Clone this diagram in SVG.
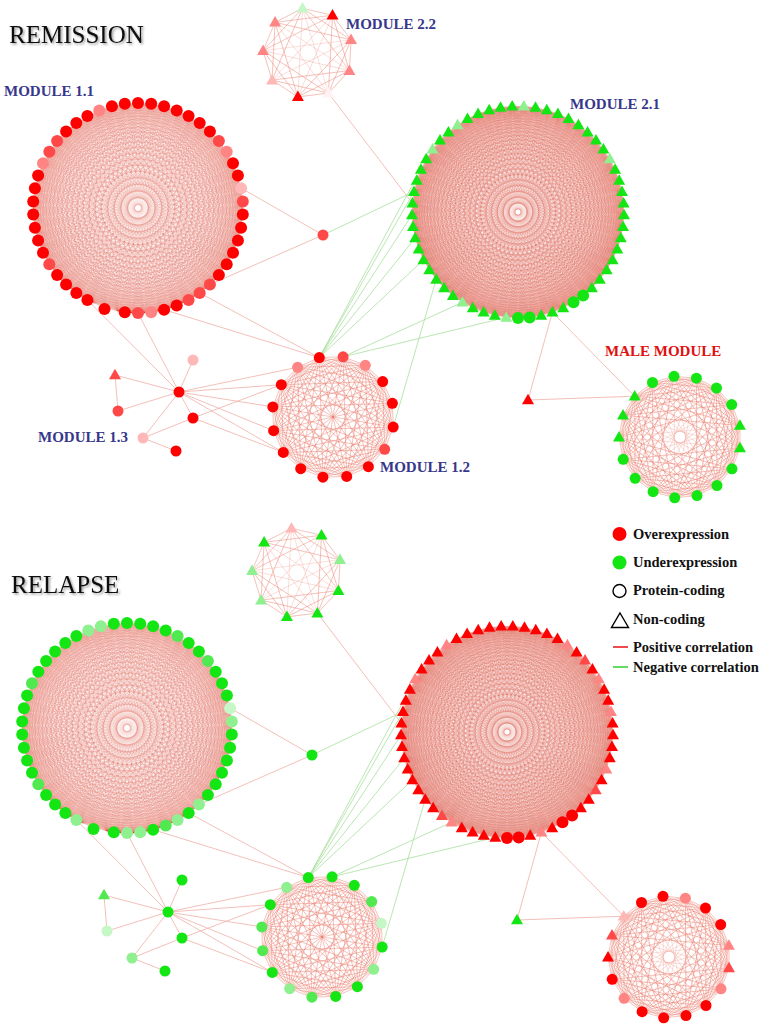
<svg xmlns="http://www.w3.org/2000/svg" width="762" height="1027" viewBox="0 0 762 1027">
<style>
.R{fill:#f00}.R2{fill:#ff4848}.R3{fill:#ff8585}.R4{fill:#ffb8b8}.W{fill:#fff2f2}
.G{fill:#14e614}.G2{fill:#50ea50}.G3{fill:#8ef08e}.G4{fill:#c6f7c6}
.p{fill:none;stroke:#efb0a8;stroke-width:.8}
.n{fill:none;stroke:#a8e09e;stroke-width:.8}
.tt{font:25px "Liberation Serif",serif;fill:#111;filter:url(#sh)}
.ml{font:bold 15px "Liberation Serif",serif;fill:#37378b}
.lg{font:bold 14.5px "Liberation Serif",serif;fill:#111}
</style>
<defs>
<filter id="sh" x="-5%" y="-30%" width="115%" height="170%"><feDropShadow dx="1.5" dy="1.5" stdDeviation="1.2" flood-color="#000" flood-opacity=".4"/></filter>
<circle id="c" r="6"/>
<circle id="d" r="5.5"/>
<path id="t" d="M0-6.2 6 4.3H-6Z"/>
<path id="f49" fill="none" stroke="#e0503c" stroke-opacity=".115" stroke-width=".5" d="M0-105L13.4-104.1 0-105 26.6-101.6 0-105 39.4-97.3 0-105 51.5-91.5 0-105 62.8-84.1 0-105 73-75.4 0-105 82.1-65.5 0-105 89.8-54.4 0-105 96-42.5 0-105 100.7-29.9 0-105 103.7-16.8 0-105 105-3.4 0-105 104.5 10.1 0-105 102.4 23.4 0-105 98.5 36.3 0-105 93.1 48.6 0-105 86.1 60.1 0-105 77.7 70.6 0-105 68.1 80 0-105 57.3 88 0-105 45.6 94.6 0-105 33.1 99.7 0-105 20.1 103.1 0-105 6.7 104.8"/>
<g id="a1"><use href="#f49"/><use href="#f49" transform="rotate(7.3469)"/></g>
<g id="a2"><use href="#a1"/><use href="#a1" transform="rotate(14.6939)"/></g>
<g id="a3"><use href="#a2"/><use href="#a2" transform="rotate(29.3878)"/></g>
<g id="a4"><use href="#a3"/><use href="#a3" transform="rotate(58.7755)"/></g>
<g id="a5"><use href="#a4"/><use href="#a4" transform="rotate(117.551)"/></g>
<g id="K49"><use href="#a5"/><use href="#a4" transform="rotate(235.102)"/><use href="#f49" transform="rotate(352.653)"/></g>
<path id="f57" fill="none" stroke="#e0503c" stroke-opacity=".115" stroke-width=".5" d="M0-106L11.7-105.4 0-106 23.2-103.4 0-106 34.4-100.3 0-106 45.2-95.9 0-106 55.5-90.3 0-106 65.1-83.7 0-106 73.9-76 0-106 81.8-67.4 0-106 88.7-58 0-106 94.6-47.9 0-106 99.3-37.2 0-106 102.8-26 0-106 105-14.6 0-106 106-2.9 0-106 105.6 8.8 0-106 104 20.3 0-106 101.2 31.6 0-106 97.1 42.6 0-106 91.8 53 0-106 85.4 62.8 0-106 78 71.8 0-106 69.6 79.9 0-106 60.4 87.1 0-106 50.5 93.2 0-106 39.9 98.2 0-106 28.8 102 0-106 17.5 104.6 0-106 5.8 105.8"/>
<g id="b1"><use href="#f57"/><use href="#f57" transform="rotate(6.31579)"/></g>
<g id="b2"><use href="#b1"/><use href="#b1" transform="rotate(12.63158)"/></g>
<g id="b3"><use href="#b2"/><use href="#b2" transform="rotate(25.26316)"/></g>
<g id="b4"><use href="#b3"/><use href="#b3" transform="rotate(50.52632)"/></g>
<g id="b5"><use href="#b4"/><use href="#b4" transform="rotate(101.05263)"/></g>
<g id="K57"><use href="#b5"/><use href="#b4" transform="rotate(202.10526)"/><use href="#b3" transform="rotate(303.15789)"/><use href="#f57" transform="rotate(353.68421)"/></g>
<path id="f16" fill="none" stroke="#e8705f" stroke-opacity=".36" stroke-width=".6" d="M0-61L23.3-56.4 0-61 43.1-43.1 0-61 56.4-23.3 0-61 61 0 0-61 56.4 23.3 0-61 43.1 43.1 0-61 23.3 56.4 0-61 0 61"/>
<g id="c1"><use href="#f16"/><use href="#f16" transform="rotate(22.5)"/></g>
<g id="c2"><use href="#c1"/><use href="#c1" transform="rotate(45)"/></g>
<g id="c3"><use href="#c2"/><use href="#c2" transform="rotate(90)"/></g>
<g id="K16"><use href="#c3"/><use href="#c3" transform="rotate(180)"/></g>
<path id="f17" fill="none" stroke="#e8705f" stroke-opacity=".36" stroke-width=".6" d="M0-61L22-56.9 0-61 41.1-45.1 0-61 54.6-27.2 0-61 60.7-5.6 0-61 58.7 16.7 0-61 48.7 36.8 0-61 32.1 51.9 0-61 11.2 60"/>
<g id="d1"><use href="#f17"/><use href="#f17" transform="rotate(21.17647)"/></g>
<g id="d2"><use href="#d1"/><use href="#d1" transform="rotate(42.35294)"/></g>
<g id="d3"><use href="#d2"/><use href="#d2" transform="rotate(84.70588)"/></g>
<g id="d4"><use href="#d3"/><use href="#d3" transform="rotate(169.41176)"/></g>
<g id="K17"><use href="#d4"/><use href="#f17" transform="rotate(338.82353)"/></g>
<path id="f9" fill="none" stroke="#e8705f" stroke-opacity=".36" stroke-width=".6" d="M0-45L28.9-34.5 0-45 44.3-7.8 0-45 39 22.5 0-45 15.4 42.3"/>
<g id="e1"><use href="#f9"/><use href="#f9" transform="rotate(40)"/></g>
<g id="e2"><use href="#e1"/><use href="#e1" transform="rotate(80)"/></g>
<g id="e3"><use href="#e2"/><use href="#e2" transform="rotate(160)"/></g>
<g id="K9"><use href="#e3"/><use href="#f9" transform="rotate(320)"/></g>
</defs>
<rect width="762" height="1027" fill="#fff"/>

<g id="connectors">
<g id="E">
<use href="#K49" transform="translate(138 208)"/>
<use href="#K57" transform="translate(518 212) rotate(180)"/>
<use href="#K16" transform="translate(333 417) rotate(-13)"/>
<use href="#K17" transform="translate(680 437) rotate(-5.6)"/>
<use href="#K9" transform="translate(308 53) rotate(-7)"/>
<path class="p" d="M241 188L323 235M210 284.5L323 235M199.7 293L319.3 357.6M164 309.7L319.3 357.6M138 313L179 392M87.4 300L179 392M115 375L118 411M115 375L179 392M118 411L179 392M143 438L179 392M143 438L176 451M143 438L193 418M179 392L193 360M179 392L193 418M179 392L297.6 367.3M179 392L281.3 384.7M179 392L272.8 406.9M179 392L273.6 430.7M179 392L283.3 452.4M193 418L281.3 384.7M193 418L283.3 452.4M328.4 93.1L412.4 203.2M552.4 312.3L528 400M552.4 312.3L634.7 396.2M528 400L634.7 396.2"/>
<path class="n" d="M319.3 357.6L420.9 169.4M319.3 357.6L414 191.7M319.3 357.6L412 214.9M319.3 357.6L415.2 238M319.3 357.6L423.4 259.9M343.1 356.8L462.5 302.3M343.1 356.8L506.3 317.4M393.2 427.1L436.2 279.4M323 235L414 191.7"/>
</g>
<use href="#E" transform="translate(-11 520)"/>
</g>

<g id="rem-m11" class="R">
<use href="#c" x="138" y="103"/><use href="#c" x="151.2" y="103.8"/><use href="#c" x="164.1" y="106.3"/><use href="#c" x="176.7" y="110.4"/><use href="#c" x="188.6" y="116"/><use href="#c" x="199.7" y="123.1"/><use href="#c" x="209.9" y="131.5"/><use href="#c" x="218.9" y="141.1" class="R2"/><use href="#c" x="226.7" y="151.7" class="R3"/><use href="#c" x="233" y="163.3"/><use href="#c" x="237.9" y="175.6"/><use href="#c" x="241.1" y="188.3" class="R4"/><use href="#c" x="242.8" y="201.4" class="R2"/><use href="#c" x="242.8" y="214.6"/><use href="#c" x="241.1" y="227.7"/><use href="#c" x="237.9" y="240.4"/><use href="#c" x="233" y="252.7"/><use href="#c" x="226.7" y="264.3"/><use href="#c" x="218.9" y="274.9"/><use href="#c" x="209.9" y="284.5" class="R2"/><use href="#c" x="199.7" y="292.9" class="R2"/><use href="#c" x="188.6" y="300" class="R2"/><use href="#c" x="176.7" y="305.6"/><use href="#c" x="164.1" y="309.7"/><use href="#c" x="151.2" y="312.2" class="R3"/><use href="#c" x="138" y="313" class="R2"/><use href="#c" x="124.8" y="312.2"/><use href="#c" x="104.5" y="309"/><use href="#c" x="87.4" y="300"/><use href="#c" x="76.3" y="292.9"/><use href="#c" x="66.1" y="284.5"/><use href="#c" x="57.1" y="274.9"/><use href="#c" x="49.3" y="264.3" class="R2"/><use href="#c" x="43" y="252.7"/><use href="#c" x="38.1" y="240.4"/><use href="#c" x="34.9" y="227.7"/><use href="#c" x="33.2" y="214.6"/><use href="#c" x="33.2" y="201.4"/><use href="#c" x="34.9" y="188.3"/><use href="#c" x="38.1" y="175.6"/><use href="#c" x="43" y="163.3" class="R3"/><use href="#c" x="49.3" y="151.7" class="R2"/><use href="#c" x="57.1" y="141.1" class="R2"/><use href="#c" x="66.1" y="131.5"/><use href="#c" x="76.3" y="123.1"/><use href="#c" x="87.4" y="116"/><use href="#c" x="99.3" y="110.4" class="R3"/><use href="#c" x="111.9" y="106.3"/><use href="#c" x="124.8" y="103.8"/>
</g>

<g id="rem-m21" class="G">
<use href="#c" x="518" y="318"/><use href="#c" x="529.7" y="317.4"/><use href="#t" x="541.2" y="315.4"/><use href="#t" x="552.4" y="312.3"/><use href="#t" x="563.2" y="307.9"/><use href="#c" x="573.5" y="302.3"/><use href="#c" x="583.1" y="295.6"/><use href="#t" x="591.9" y="288"/><use href="#t" x="599.8" y="279.4"/><use href="#t" x="606.7" y="270"/><use href="#t" x="612.6" y="259.9"/><use href="#t" x="617.3" y="249.2"/><use href="#t" x="620.8" y="238"/><use href="#t" x="623" y="226.6"/><use href="#t" x="624" y="214.9"/><use href="#t" x="623.6" y="203.2"/><use href="#t" x="622" y="191.7"/><use href="#t" x="619.2" y="180.4"/><use href="#t" x="615.1" y="169.4"/><use href="#t" x="609.8" y="159" class="G3"/><use href="#t" x="603.4" y="149.2"/><use href="#t" x="596" y="140.2"/><use href="#t" x="587.6" y="132.1"/><use href="#t" x="578.4" y="124.9"/><use href="#t" x="568.5" y="118.8"/><use href="#t" x="557.9" y="113.8"/><use href="#t" x="546.8" y="110"/><use href="#t" x="535.5" y="107.4"/><use href="#t" x="523.8" y="106.2" class="G3"/><use href="#t" x="512.2" y="106.2"/><use href="#t" x="500.5" y="107.4"/><use href="#t" x="489.2" y="110"/><use href="#t" x="478.1" y="113.8"/><use href="#t" x="467.5" y="118.8"/><use href="#t" x="457.6" y="124.9" class="G3"/><use href="#t" x="448.4" y="132.1"/><use href="#t" x="440" y="140.2"/><use href="#t" x="432.6" y="149.2" class="G3"/><use href="#t" x="426.2" y="159"/><use href="#t" x="420.9" y="169.4"/><use href="#t" x="416.8" y="180.4"/><use href="#t" x="414" y="191.7"/><use href="#t" x="412.4" y="203.2"/><use href="#t" x="412" y="214.9"/><use href="#t" x="413" y="226.6"/><use href="#t" x="415.2" y="238"/><use href="#t" x="418.7" y="249.2"/><use href="#t" x="423.4" y="259.9"/><use href="#t" x="429.3" y="270"/><use href="#t" x="436.2" y="279.4"/><use href="#t" x="444.1" y="288"/><use href="#t" x="452.9" y="295.6"/><use href="#t" x="462.5" y="302.3" class="G3"/><use href="#t" x="472.8" y="307.9"/><use href="#t" x="483.6" y="312.3"/><use href="#t" x="494.8" y="315.4"/><use href="#t" x="506.3" y="317.4" class="G3"/>
</g>

<g id="rem-m22" class="R3">
<use href="#t" x="302.5" y="8.3" class="G4"/><use href="#t" x="332.5" y="15.3" class="R"/><use href="#t" x="351" y="39.8"/><use href="#t" x="349.4" y="70.6"/><use href="#t" x="328.4" y="93.1" class="W"/><use href="#t" x="297.9" y="96.8" class="R"/><use href="#t" x="272.1" y="80.1" class="R4"/><use href="#t" x="263.1" y="50.6"/><use href="#t" x="275.1" y="22.3"/>
</g>

<g id="rem-m12" class="R">
<use href="#d" x="319.3" y="357.6"/><use href="#d" x="343.1" y="356.8" class="R2"/><use href="#d" x="365.3" y="365.3" class="R3"/><use href="#d" x="382.7" y="381.6"/><use href="#d" x="392.4" y="403.3"/><use href="#d" x="393.2" y="427.1"/><use href="#d" x="384.7" y="449.3" class="R2"/><use href="#d" x="368.4" y="466.7"/><use href="#d" x="346.7" y="476.4"/><use href="#d" x="322.9" y="477.2"/><use href="#d" x="300.7" y="468.7"/><use href="#d" x="283.3" y="452.4"/><use href="#d" x="273.6" y="430.7"/><use href="#d" x="272.8" y="406.9"/><use href="#d" x="281.3" y="384.7"/><use href="#d" x="297.6" y="367.3" class="R3"/>
</g>

<g id="rem-m13" class="R">
<use href="#d" x="179" y="392"/><use href="#d" x="193" y="360" class="R4"/><use href="#t" x="115" y="375" class="R2"/><use href="#d" x="118" y="411" class="R2"/><use href="#d" x="143" y="438" class="R4"/><use href="#d" x="176" y="451"/><use href="#d" x="193" y="418"/>
</g>

<g id="rem-male" class="G">
<use href="#d" x="674" y="376.3"/><use href="#d" x="696.4" y="378.2"/><use href="#d" x="716.5" y="388.1"/><use href="#d" x="731.7" y="404.6"/><use href="#t" x="739.9" y="425.5"/><use href="#t" x="740" y="447.9"/><use href="#d" x="732" y="468.8"/><use href="#d" x="717" y="485.5"/><use href="#d" x="697" y="495.6"/><use href="#d" x="674.7" y="497.8"/><use href="#d" x="653.1" y="491.7"/><use href="#d" x="635.1" y="478.3"/><use href="#d" x="623.2" y="459.3"/><use href="#t" x="619" y="437.3"/><use href="#t" x="623" y="415.3"/><use href="#t" x="634.7" y="396.2"/><use href="#d" x="652.5" y="382.5"/>
</g>

<g id="rem-iso1" class="R2"><use href="#d" x="323" y="235"/></g>
<g id="rem-iso2" class="R"><use href="#t" x="528" y="400"/></g>

<g id="rel-m11" class="G" transform="translate(-11 520)">
<use href="#c" x="138" y="103"/><use href="#c" x="151.2" y="103.8"/><use href="#c" x="164.1" y="106.3"/><use href="#c" x="176.7" y="110.4"/><use href="#c" x="188.6" y="116" class="G2"/><use href="#c" x="199.7" y="123.1"/><use href="#c" x="209.9" y="131.5"/><use href="#c" x="218.9" y="141.1" class="G2"/><use href="#c" x="226.7" y="151.7"/><use href="#c" x="233" y="163.3"/><use href="#c" x="237.9" y="175.6"/><use href="#c" x="241.1" y="188.3" class="G4"/><use href="#c" x="242.8" y="201.4" class="G3"/><use href="#c" x="242.8" y="214.6"/><use href="#c" x="241.1" y="227.7"/><use href="#c" x="237.9" y="240.4"/><use href="#c" x="233" y="252.7"/><use href="#c" x="226.7" y="264.3"/><use href="#c" x="218.9" y="274.9"/><use href="#c" x="209.9" y="284.5" class="G3"/><use href="#c" x="199.7" y="292.9"/><use href="#c" x="188.6" y="300" class="G3"/><use href="#c" x="176.7" y="305.6" class="G2"/><use href="#c" x="164.1" y="309.7"/><use href="#c" x="151.2" y="312.2" class="G3"/><use href="#c" x="138" y="313" class="G3"/><use href="#c" x="124.8" y="312.2"/><use href="#c" x="104.5" y="309"/><use href="#c" x="87.4" y="300" class="G3"/><use href="#c" x="76.3" y="292.9"/><use href="#c" x="66.1" y="284.5"/><use href="#c" x="57.1" y="274.9"/><use href="#c" x="49.3" y="264.3" class="G2"/><use href="#c" x="43" y="252.7"/><use href="#c" x="38.1" y="240.4"/><use href="#c" x="34.9" y="227.7"/><use href="#c" x="33.2" y="214.6"/><use href="#c" x="33.2" y="201.4"/><use href="#c" x="34.9" y="188.3"/><use href="#c" x="38.1" y="175.6"/><use href="#c" x="43" y="163.3" class="G2"/><use href="#c" x="49.3" y="151.7"/><use href="#c" x="57.1" y="141.1"/><use href="#c" x="66.1" y="131.5"/><use href="#c" x="76.3" y="123.1"/><use href="#c" x="87.4" y="116"/><use href="#c" x="99.3" y="110.4" class="G3"/><use href="#c" x="111.9" y="106.3" class="G3"/><use href="#c" x="124.8" y="103.8"/>
</g>

<g id="rel-m21" class="R" transform="translate(-11 520)">
<use href="#c" x="518" y="318"/><use href="#c" x="529.7" y="317.4"/><use href="#t" x="541.2" y="315.4"/><use href="#t" x="552.4" y="312.3" class="R3"/><use href="#t" x="563.2" y="307.9"/><use href="#c" x="573.5" y="302.3"/><use href="#c" x="583.1" y="295.6"/><use href="#t" x="591.9" y="288"/><use href="#t" x="599.8" y="279.4"/><use href="#t" x="606.7" y="270" class="R2"/><use href="#t" x="612.6" y="259.9"/><use href="#t" x="617.3" y="249.2" class="R3"/><use href="#t" x="620.8" y="238"/><use href="#t" x="623" y="226.6"/><use href="#t" x="624" y="214.9"/><use href="#t" x="623.6" y="203.2"/><use href="#t" x="622" y="191.7" class="R3"/><use href="#t" x="619.2" y="180.4"/><use href="#t" x="615.1" y="169.4"/><use href="#t" x="609.8" y="159" class="R3"/><use href="#t" x="603.4" y="149.2"/><use href="#t" x="596" y="140.2" class="R2"/><use href="#t" x="587.6" y="132.1"/><use href="#t" x="578.4" y="124.9" class="R3"/><use href="#t" x="568.5" y="118.8"/><use href="#t" x="557.9" y="113.8"/><use href="#t" x="546.8" y="110"/><use href="#t" x="535.5" y="107.4"/><use href="#t" x="523.8" y="106.2"/><use href="#t" x="512.2" y="106.2"/><use href="#t" x="500.5" y="107.4"/><use href="#t" x="489.2" y="110"/><use href="#t" x="478.1" y="113.8"/><use href="#t" x="467.5" y="118.8"/><use href="#t" x="457.6" y="124.9" class="R3"/><use href="#t" x="448.4" y="132.1"/><use href="#t" x="440" y="140.2"/><use href="#t" x="432.6" y="149.2"/><use href="#t" x="426.2" y="159" class="R3"/><use href="#t" x="420.9" y="169.4"/><use href="#t" x="416.8" y="180.4"/><use href="#t" x="414" y="191.7"/><use href="#t" x="412.4" y="203.2"/><use href="#t" x="412" y="214.9"/><use href="#t" x="413" y="226.6"/><use href="#t" x="415.2" y="238"/><use href="#t" x="418.7" y="249.2"/><use href="#t" x="423.4" y="259.9"/><use href="#t" x="429.3" y="270"/><use href="#t" x="436.2" y="279.4"/><use href="#t" x="444.1" y="288"/><use href="#t" x="452.9" y="295.6" class="R2"/><use href="#t" x="462.5" y="302.3" class="R3"/><use href="#t" x="472.8" y="307.9"/><use href="#t" x="483.6" y="312.3"/><use href="#t" x="494.8" y="315.4"/><use href="#t" x="506.3" y="317.4"/>
</g>

<g id="rel-m22" class="G" transform="translate(-11 520)">
<use href="#t" x="302.5" y="8.3" class="R4"/><use href="#t" x="332.5" y="15.3"/><use href="#t" x="351" y="39.8" class="G3"/><use href="#t" x="349.4" y="70.6"/><use href="#t" x="328.4" y="93.1"/><use href="#t" x="297.9" y="96.8"/><use href="#t" x="272.1" y="80.1" class="G3"/><use href="#t" x="263.1" y="50.6" class="G3"/><use href="#t" x="275.1" y="22.3"/>
</g>

<g id="rel-m12" class="G" transform="translate(-11 520)">
<use href="#d" x="319.3" y="357.6"/><use href="#d" x="343.1" y="356.8"/><use href="#d" x="365.3" y="365.3"/><use href="#d" x="382.7" y="381.6" class="G2"/><use href="#d" x="392.4" y="403.3" class="G4"/><use href="#d" x="393.2" y="427.1"/><use href="#d" x="384.7" y="449.3" class="G3"/><use href="#d" x="368.4" y="466.7"/><use href="#d" x="346.7" y="476.4"/><use href="#d" x="322.9" y="477.2" class="G2"/><use href="#d" x="300.7" y="468.7" class="G3"/><use href="#d" x="283.3" y="452.4"/><use href="#d" x="273.6" y="430.7" class="G2"/><use href="#d" x="272.8" y="406.9" class="G2"/><use href="#d" x="281.3" y="384.7"/><use href="#d" x="297.6" y="367.3" class="G3"/>
</g>

<g id="rel-m13" class="G" transform="translate(-11 520)">
<use href="#d" x="179" y="392"/><use href="#d" x="193" y="360"/><use href="#t" x="115" y="375" class="G2"/><use href="#d" x="118" y="411" class="G4"/><use href="#d" x="143" y="438" class="G3"/><use href="#d" x="176" y="451"/><use href="#d" x="193" y="418"/>
</g>

<g id="rel-male" class="R" transform="translate(-11 520)">
<use href="#d" x="674" y="376.3"/><use href="#d" x="696.4" y="378.2" class="R3"/><use href="#d" x="716.5" y="388.1"/><use href="#d" x="731.7" y="404.6"/><use href="#t" x="739.9" y="425.5" class="R3"/><use href="#t" x="740" y="447.9" class="R2"/><use href="#d" x="732" y="468.8" class="R3"/><use href="#d" x="717" y="485.5"/><use href="#d" x="697" y="495.6"/><use href="#d" x="674.7" y="497.8"/><use href="#d" x="653.1" y="491.7"/><use href="#d" x="635.1" y="478.3" class="R3"/><use href="#d" x="623.2" y="459.3"/><use href="#t" x="619" y="437.3"/><use href="#t" x="623" y="415.3" class="R2"/><use href="#t" x="634.7" y="396.2" class="R4"/><use href="#d" x="652.5" y="382.5"/>
</g>

<g id="rel-iso1" class="G"><use href="#d" x="312" y="755"/></g>
<g id="rel-iso2" class="G"><use href="#t" x="517" y="920"/></g>

<g id="titles">
<text class="tt" x="9" y="43">REMISSION</text>
<text class="tt" x="11" y="593">RELAPSE</text>
<text class="ml" x="4" y="96">MODULE 1.1</text>
<text class="ml" x="346" y="29">MODULE 2.2</text>
<text class="ml" x="570" y="109">MODULE 2.1</text>
<text class="ml" x="605" y="356" style="fill:#e01010">MALE MODULE</text>
<text class="ml" x="38" y="442">MODULE 1.3</text>
<text class="ml" x="380" y="472">MODULE 1.2</text>
</g>

<g id="legend">
<circle cx="619.5" cy="534" r="7" fill="#f00"/>
<text class="lg" x="633" y="539">Overexpression</text>
<circle cx="619.5" cy="562.5" r="7" fill="#14e614"/>
<text class="lg" x="633" y="567">Underexpression</text>
<circle cx="619.5" cy="591" r="6.5" fill="none" stroke="#000" stroke-width="1.4"/>
<text class="lg" x="633" y="595">Protein-coding</text>
<path d="M620 613 628.5 627.5H611.5Z" fill="none" stroke="#000" stroke-width="1.4"/>
<text class="lg" x="633" y="624">Non-coding</text>
<path d="M613 647H628" stroke="#e81010" stroke-width="1.5"/>
<text class="lg" x="633" y="652">Positive correlation</text>
<path d="M613 667H628" stroke="#30d030" stroke-width="1.5"/>
<text class="lg" x="633" y="672">Negative correlation</text>
</g>
</svg>
